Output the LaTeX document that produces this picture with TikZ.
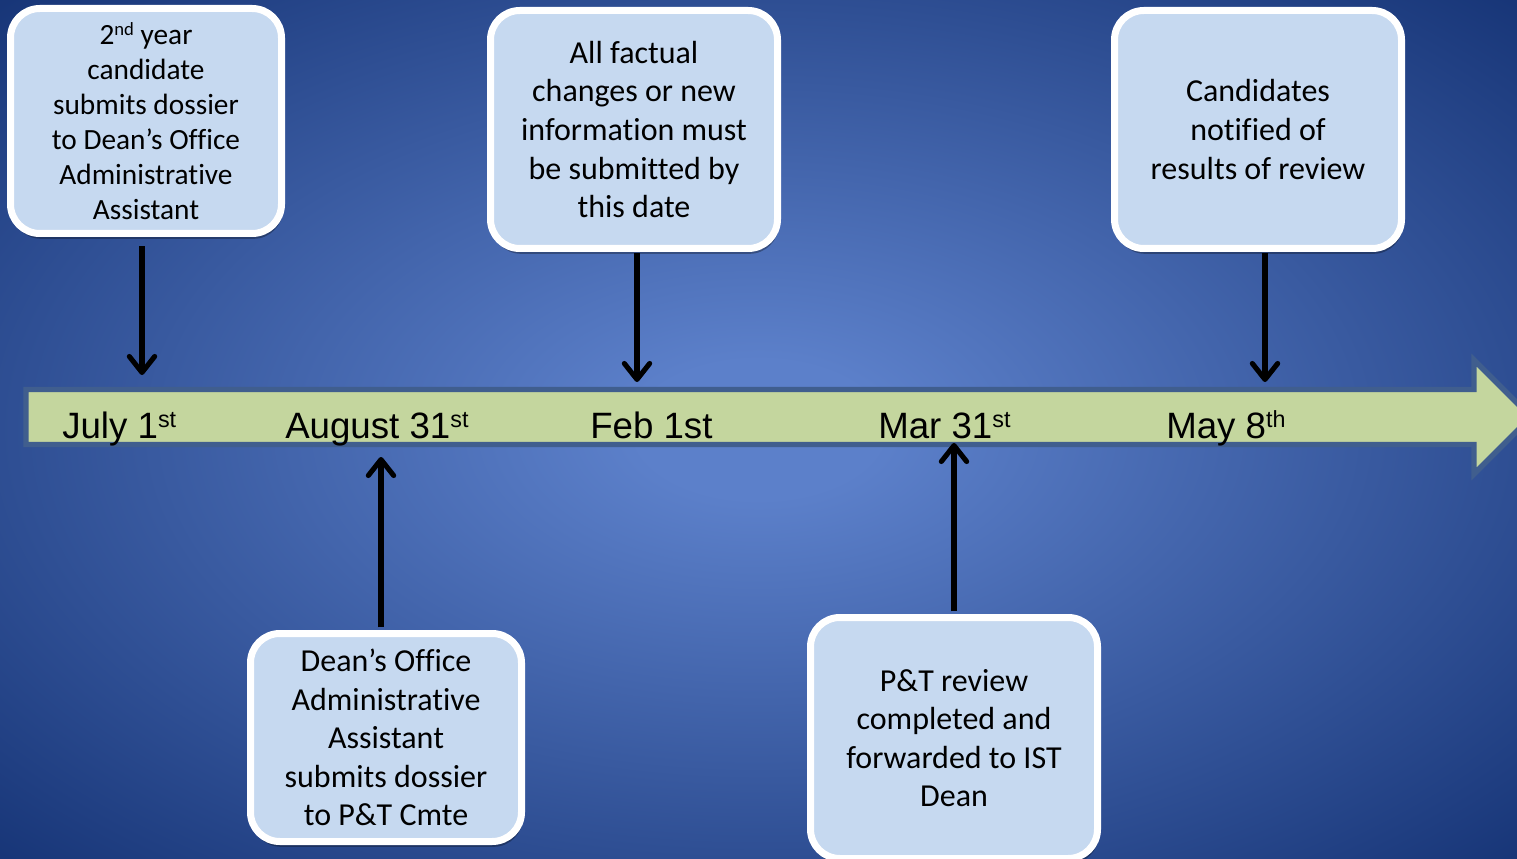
\documentclass[tikz,border=0pt]{standalone}
\usepackage{fontspec}
\setmainfont{Carlito}[RawFeature=-liga]
\newfontfamily\arialf{Liberation Sans}
\usetikzlibrary{arrows.meta,shadows}
\definecolor{bgin}{RGB}{92,128,202}
\definecolor{bgout}{RGB}{22,52,118}
\definecolor{boxfill}{RGB}{198,217,240}
\definecolor{tlfill}{RGB}{196,214,158}
\definecolor{tlborder}{RGB}{64,94,142}
\pgfdeclareradialshading{bgshade}{\pgfpoint{0bp}{0bp}}{color(0bp)=(bgin); color(4bp)=(bgin); color(36bp)=(bgout); color(50bp)=(bgout)}
\newcommand\dsup[1]{\raisebox{8pt}{\fontsize{17.5}{17.5}\selectfont #1}}
\newcommand\bsup[1]{\raisebox{7pt}{\fontsize{14}{14}\selectfont #1}}
\tikzset{
  box/.style={draw=white, line width=5.25pt, fill=boxfill, rounded corners=22pt,
    align=center, inner sep=0pt, text=black,
    font=\fontsize{24}{28.9}\selectfont,
    drop shadow={shadow xshift=1pt, shadow yshift=-4pt, opacity=0.3, fill=black}},
  smallbox/.style={box, font=\fontsize{22}{26.25}\selectfont},
  datelabel/.style={anchor=base west, inner sep=0pt, text=black,
    font=\arialf\fontsize{27.5}{33}\selectfont},
  conn/.style={draw=black, line width=3.8pt,
    -{Straight Barb[length=12pt,width=19pt,round]}},
}
\begin{document}
\begin{tikzpicture}[x=0.75pt,y=-0.75pt]
\useasboundingbox (0,0) rectangle (1517,859);
\shade[shading=bgshade] (0,0) rectangle (1517,859);
% timeline arrow
\draw[line width=4pt, draw=tlborder, fill=tlfill, line join=miter]
  (26,389.5) -- (1474,389.5) -- (1474,360) -- (1531,417) -- (1474,474)
  -- (1474,444.5) -- (26,444.5) -- cycle;
% date labels
\node[datelabel] (d1) at (62,438) {July 1\dsup{st}};
\node[datelabel] (d2) at (285,438) {August 31\dsup{st}};
\node[datelabel] (d3) at (590,438) {Feb 1st};
\node[datelabel] (d4) at (878,438) {Mar 31\dsup{st}};
\node[datelabel] (d5) at (1166,438) {May 8\dsup{th}};
% boxes
\node[smallbox, minimum width=203.25pt, minimum height=168.75pt] (b1) at (146,121)
  {2\bsup{nd} year\\candidate\\submits dossier\\to Dean’s Office\\Administrative\\Assistant};
\node[box, minimum width=215.25pt, minimum height=178.5pt] (b2) at (634,129.5)
  {All factual\\changes or new\\information must\\be submitted by\\this date};
\node[box, minimum width=215.25pt, minimum height=178.5pt] (b3) at (1258,129.5)
  {Candidates\\notified of\\results of review};
\node[box, minimum width=203.25pt, minimum height=156pt] (b4) at (386,737.5)
  {Dean’s Office\\Administrative\\Assistant\\submits dossier\\to P\&T Cmte};
\node[box, minimum width=215.25pt, minimum height=180.75pt] (b5) at (954,738)
  {P\&T review\\completed and\\forwarded to IST\\Dean};
% arrow tips
\coordinate (t1) at (142,375);
\coordinate (t2) at (637,382);
\coordinate (t3) at (1265,382);
\coordinate (t4) at (381,457);
\coordinate (t5) at (954,443);
\draw[conn, shorten <=7pt] (b1.south -| t1) -- (t1);
\draw[conn, shorten <=1pt] (b2.south -| t2) -- (t2);
\draw[conn, shorten <=1pt] (b3.south -| t3) -- (t3);
\draw[conn, shorten <=2pt] (b4.north -| t4) -- (t4);
\draw[conn, shorten <=2pt] (b5.north -| t5) -- (t5);
\end{tikzpicture}
\end{document}
